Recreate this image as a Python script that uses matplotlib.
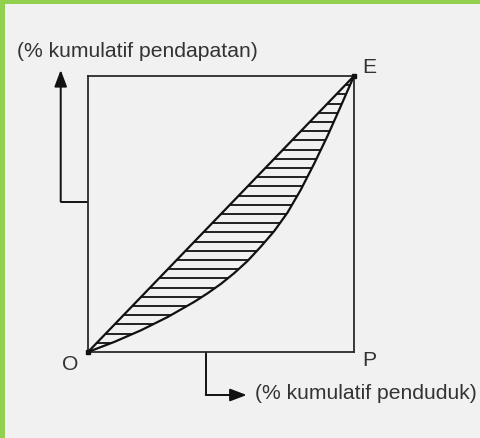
import numpy as np
import matplotlib
matplotlib.use("Agg")
import matplotlib.pyplot as plt
from matplotlib.patches import Rectangle

# ---- data (cumulative %) ----
pop_cum = [0, 10, 20, 30, 40, 45, 50, 55, 60, 65, 70, 75, 80, 85, 90, 95, 100]
income_cum = [0, 3.7, 7.9, 12.7, 18.2, 21.3, 24.7, 28.6, 33.0, 38.2, 43.8, 50.5, 58.8,
              68.2, 78.2, 89.0, 100]
equality_x = [0, 100]
equality_y = [0, 100]
hatch_levels = list(np.arange(1, 30) * 100 / 30)

label_y = "(% kumulatif pendapatan)"
label_x = "(% kumulatif penduduk)"
corner_labels = {"O": (-0.068, -0.047), "P": (1.056, -0.029), "E": (1.056, 1.029)}

W, H = 480, 438
fig = plt.figure(figsize=(W / 100, H / 100), dpi=100)
fig.patch.set_facecolor("#f1f1f1")
green = "#92d050"
fig.patches.append(Rectangle((0, 1 - 4 / H), 1, 4 / H, transform=fig.transFigure,
                             facecolor=green, edgecolor="none", zorder=10))
fig.patches.append(Rectangle((0, 0), 5 / W, 1, transform=fig.transFigure,
                             facecolor=green, edgecolor="none", zorder=10))

bx0, bx1, by0, by1 = 88, 354, 76, 352
ax = fig.add_axes([bx0 / W, (H - by1) / H, (bx1 - bx0) / W, (by1 - by0) / H])
ax.set_facecolor("none")
ax.set_xlim(0, 100)
ax.set_ylim(0, 100)
ax.set_xticks([])
ax.set_yticks([])
for s in ax.spines.values():
    s.set_color("#2a2a2a")
    s.set_linewidth(1.3)

lc = "#111111"
# hatch lines between equality line and Lorenz curve
for lv in hatch_levels:
    x_left = np.interp(lv, equality_y, equality_x)
    x_right = np.interp(lv, income_cum, pop_cum)
    ax.plot([x_left, x_right], [lv, lv], color=lc, lw=1.3, solid_capstyle="butt", zorder=2)

ax.plot(equality_x, equality_y, color=lc, lw=1.6, zorder=3, clip_on=False,
        solid_joinstyle="round")
ax.plot(pop_cum, income_cum, color=lc, lw=1.6, zorder=3, clip_on=False,
        solid_joinstyle="round")
ax.plot([equality_x[0], equality_x[-1]], [equality_y[0], equality_y[-1]], 's',
        color=lc, ms=3, zorder=4, clip_on=False)

txtc = "#333333"
fs = 15.2
for name, (tx, ty) in corner_labels.items():
    ax.text(tx, ty, name, transform=ax.transAxes, ha="center", va="center",
            fontsize=fs, color=txtc, family="Liberation Sans")

ax.text(-0.267, 1.087, label_y, transform=ax.transAxes, ha="left", va="center",
        fontsize=fs, color=txtc, family="Liberation Sans")
ax.text(0.6267, -0.1486, label_x, transform=ax.transAxes, ha="left", va="center",
        fontsize=fs, color=txtc, family="Liberation Sans")

# left arrow
arrow_kw = dict(arrowstyle="-|>,head_length=1.0,head_width=0.38", color=lc, lw=1.4,
                shrinkA=0, shrinkB=0)
ax.plot([0, -0.1026], [0.5446, 0.5446], transform=ax.transAxes, color=lc, lw=1.4,
        clip_on=False, solid_capstyle="butt")
ax.annotate("", xy=(-0.1026, 1.0217), xytext=(-0.1026, 0.5446), xycoords="axes fraction",
            textcoords="axes fraction", arrowprops=arrow_kw, annotation_clip=False)
# bottom arrow
ax.plot([0.4425, 0.4425], [0, -0.1558], transform=ax.transAxes, color=lc, lw=1.4,
        clip_on=False, solid_capstyle="butt")
ax.annotate("", xy=(0.5966, -0.1558), xytext=(0.4425, -0.1558), xycoords="axes fraction",
            textcoords="axes fraction", arrowprops=arrow_kw, annotation_clip=False)

fig.savefig("out.png", dpi=100, facecolor=fig.get_facecolor())
